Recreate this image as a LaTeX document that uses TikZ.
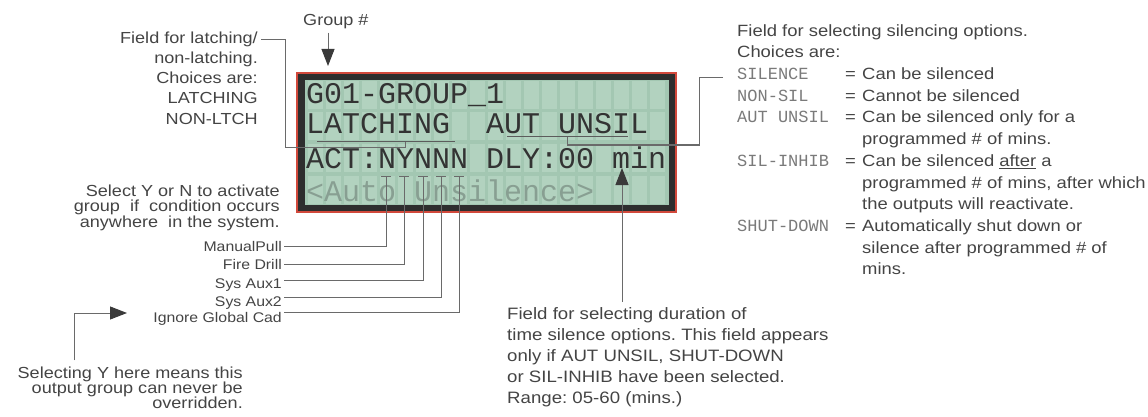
\documentclass[tikz,border=0pt]{standalone}
\usepackage{fontspec}
\setmainfont{Liberation Sans}[FakeStretch=1.13]
\newfontfamily\lcdfont{Liberation Mono}
\newfontfamily\codefont{Liberation Mono}
\usetikzlibrary{arrows.meta,calc}
\lineskiplimit=-10pt
\frenchspacing
\definecolor{textgray}{HTML}{444444}
\definecolor{linegray}{HTML}{6A6A6A}
\definecolor{arrowgray}{HTML}{3A3A3A}
\definecolor{lcdbg}{HTML}{A3C7B2}
\definecolor{lcdcell}{HTML}{B2D2BF}
\definecolor{lcdborder}{HTML}{2E2E2E}
\definecolor{lcdred}{HTML}{D2493C}
\definecolor{lcdtext}{HTML}{333333}
\definecolor{lcdlight}{HTML}{889F92}
\definecolor{codegray}{HTML}{7A7A7A}
\begin{document}
\begin{tikzpicture}[x=1pt,y=-1pt,
  txt/.style={inner sep=0pt,text=textgray},
  lcdrow/.style={inner sep=0pt,text=lcdtext,anchor=base west,font=\lcdfont\fontsize{30}{30}\selectfont},
  code/.style={inner sep=0pt,text=codegray,anchor=base west,font=\codefont\fontsize{17}{17}\selectfont},
  eqs/.style={inner sep=0pt,text=textgray,anchor=base west,font=\fontsize{16.3}{21.7}\selectfont},
  desc/.style={inner sep=0pt,text=textgray,anchor=north west,align=left,font=\fontsize{16.3}{21.7}\selectfont},
  small/.style={inner sep=0pt,text=textgray,anchor=base east,font=\fontsize{14}{17}\selectfont},
  conn/.style={draw=linegray,line width=1pt},
  uline/.style={draw=lcdtext!80,line width=1pt},
  ptr/.style={draw=linegray,line width=1pt,-{Triangle[length=17pt,width=13pt,color=arrowgray]}},
]
\useasboundingbox (0,0) rectangle (1148,417);

% ---------- LCD ----------
\fill[lcdred] (296,72) rectangle (677,213);
\fill[lcdborder] (298,74) rectangle (675,211);
\fill[lcdbg] (305,80) rectangle (669,205);
\foreach \i in {0,...,19}
  \foreach \t in {81,112,144,176}
    \fill[lcdcell] ({306+18*\i+1.5},\t) rectangle ++(15,28);

\node[lcdrow] (r1) at (306,104) {G01-GROUP\_1};
\node[lcdrow] (r2) at (306,134) {LATCHING\ \ AUT UNSIL};
\node[lcdrow] (r3) at (306,168) {ACT:NYNNN DLY:00 min};
\node[lcdrow,text=lcdlight] (r4) at (306,201) {<Auto Unsilence>};

\draw[uline] (317,142) -- (455,142);
\draw[uline] (507,137) -- (628,137);

% ---------- Group # ----------
\node[txt,anchor=base west,font=\fontsize{16}{20}\selectfont] (grp) at (303,26) {Group \#};
\coordinate (grpTip) at (328,66);
\draw[ptr] ($(grp.south -| grpTip)+(0,3)$) -- (grpTip);

% ---------- latching ----------
\node[txt,align=right,anchor=north east,font=\fontsize{16}{20.25}\selectfont] (latch) at (258,31.4)
  {Field for latching/\\non-latching.\\Choices are:\\LATCHING\\NON-LTCH};
\coordinate (latU) at (405,142);
\draw[conn] ([shift={(3,8.6)}]latch.north east) -| (285,147) -| (latU);

% ---------- ACT selection ----------
\node[txt,align=right,anchor=north east,font=\fontsize{16}{15.5}\selectfont] (sel) at (280,184.4)
  {Select Y or N to activate\\group\ \ if\ \ condition occurs\\anywhere\ \ in the system.};

\foreach \x/\l/\b/\name [count=\k] in {386/246.5/251/ManualPull,404/264/269.5/Fire Drill,423/280.5/288/Sys Aux1,441/297.5/306/Sys Aux2,459/312/322.5/Ignore Global Cad}{
  \node[small] (lab\k) at (282,\b) {\name};
  \coordinate (t\k) at (\x,176);
  \coordinate (s\k) at (284,\l);
  \draw[conn] (s\k) -| (t\k);
  \draw[conn] ($(t\k)+(-5,0)$) -- ($(t\k)+(5,0)$);
}

% ---------- override ----------
\node[txt,align=right,anchor=north east,font=\fontsize{16}{15}\selectfont] (ovr) at (243,366.4)
  {Selecting Y here means this\\output group can never be\\overridden.};
\coordinate (ovTip) at (127,313);
\draw[ptr] ($(ovr.north west)+(57,-6)$) |- (ovTip);

% ---------- duration ----------
\node[txt,align=left,anchor=north west,font=\fontsize{16.5}{21}\selectfont] (dur) at (507,307)
  {Field for selecting duration of\\time silence options. This field appears\\only if AUT UNSIL, SHUT-DOWN\\or SIL-INHIB have been selected.\\Range: 05-60 (mins.)};
\coordinate (minTip) at (622,168);
\draw[ptr] ($(dur.north -| minTip)+(0,-5)$) -- (minTip);

% ---------- silencing options ----------
\node[desc] (sil) at (737,24.2) {Field for selecting silencing options.\\Choices are:};
\node[code] (c1) at (737,79.4) {SILENCE};
\node[code] (c2) at (737,101.1) {NON-SIL};
\node[code] (c3) at (737,122.8) {AUT UNSIL};
\node[code] (c4) at (737,166.2) {SIL-INHIB};
\node[code] (c5) at (737,231.3) {SHUT-DOWN};
\foreach \b [count=\k] in {79.4,101.1,122.8,166.2,231.3}
  \node[eqs] (e\k) at (845,\b) {=};
\node[desc] (d1) at (862,67.5) {Can be silenced};
\node[desc] (d2) at (862,89.2) {Cannot be silenced};
\node[desc] (d3) at (862,110.9) {Can be silenced only for a\\programmed \# of mins.};
\node[desc] (d4) at (862,154.3) {Can be silenced \underline{after} a\\programmed \# of mins, after which\\the outputs will reactivate.};
\node[desc] (d5) at (862,219.4) {Automatically shut down or\\silence after programmed \# of\\mins.};

\coordinate (silU) at (567,137);
\draw[conn] ($(c1.west)+(-14,4)$) -| (699,145) -| (silU);
\end{tikzpicture}
\end{document}
